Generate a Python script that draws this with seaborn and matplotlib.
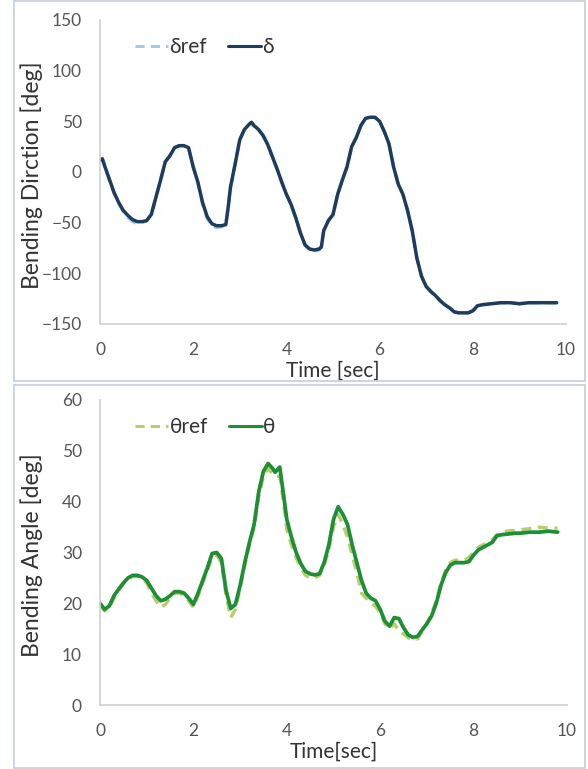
import numpy as np
import pandas as pd
import matplotlib
matplotlib.use("Agg")
import matplotlib.pyplot as plt
import seaborn as sns
from matplotlib.patches import Rectangle

# ---------------- data ----------------
t_delta = [0.0, 0.05, 0.1, 0.2, 0.3, 0.4, 0.5, 0.6, 0.7, 0.8, 0.9, 1.0, 1.1, 1.2, 1.3,
           1.4, 1.5, 1.6, 1.7, 1.8, 1.9, 2.0, 2.1, 2.2, 2.3, 2.4, 2.5, 2.6, 2.7, 2.75,
           2.8, 2.9, 3.0, 3.1, 3.2, 3.25, 3.3, 3.4, 3.5, 3.6, 3.7, 3.8, 3.9, 4.0, 4.1,
           4.2, 4.3, 4.4, 4.5, 4.6, 4.7, 4.75, 4.8, 4.9, 5.0, 5.1, 5.2, 5.3, 5.4, 5.5,
           5.6, 5.7, 5.8, 5.9, 6.0, 6.1, 6.2, 6.3, 6.4, 6.5, 6.6, 6.7, 6.8, 6.9, 7.0,
           7.1, 7.2, 7.3, 7.4, 7.5, 7.6, 7.7, 7.8, 7.9, 8.0, 8.1, 8.2, 8.4, 8.6, 8.8,
           9.0, 9.2, 9.4, 9.6, 9.8]
delta = [12, 13, 6, -7, -20, -30, -38, -43, -47, -49, -49, -48, -42, -25, -8,
         10, 16, 24, 26, 26, 24, 5, -10, -30, -44, -51, -53, -53, -52, -35,
         -15, 8, 32, 42, 47, 49, 46, 42, 36, 27, 15, 3, -10, -22, -32,
         -45, -60, -72, -76, -77, -76, -74, -58, -48, -42, -22, -8, 5, 25, 34,
         46, 53, 54, 54, 50, 40, 28, 5, -12, -22, -38, -58, -85, -103, -113,
         -118, -122, -127, -131, -134, -138, -139, -139, -139, -137, -132, -131, -130, -129, -129,
         -130, -129, -129, -129, -129]
delta_ref = [12, 13, 6, -8, -21, -31, -39, -45, -49, -51, -50, -48, -42, -25, -8,
             10, 16, 24, 26, 26, 24, 5, -10, -31, -46, -53, -55, -54, -52, -35,
             -15, 8, 32, 42, 47, 49, 46, 42, 36, 27, 15, 3, -10, -22, -32,
             -45, -60, -72, -77, -78, -77, -74, -58, -48, -42, -22, -8, 5, 25, 34,
             46, 53, 54, 54, 50, 40, 28, 5, -12, -22, -38, -58, -85, -103, -113,
             -118, -122, -127, -131, -134, -138, -139, -139, -139, -137, -132, -131, -130, -129, -129,
             -130, -129, -129, -129, -129]

t_theta = [0.0, 0.1, 0.2, 0.3, 0.4, 0.5, 0.6, 0.7, 0.8, 0.9, 1.0, 1.1, 1.2, 1.3, 1.4,
           1.5, 1.6, 1.7, 1.8, 1.9, 2.0, 2.1, 2.2, 2.3, 2.4, 2.5, 2.6, 2.7, 2.8, 2.9,
           3.0, 3.1, 3.2, 3.3, 3.4, 3.5, 3.6, 3.7, 3.75, 3.85, 3.95, 4.0, 4.1, 4.2, 4.3,
           4.4, 4.5, 4.6, 4.7, 4.8, 4.9, 5.0, 5.1, 5.2, 5.3, 5.4, 5.5, 5.6, 5.7, 5.8,
           5.9, 6.0, 6.1, 6.2, 6.3, 6.4, 6.5, 6.6, 6.7, 6.8, 6.9, 7.0, 7.1, 7.2, 7.3,
           7.4, 7.5, 7.6, 7.7, 7.8, 7.9, 8.0, 8.1, 8.2, 8.3, 8.4, 8.5, 8.6, 8.7, 8.8,
           8.9, 9.0, 9.2, 9.4, 9.6, 9.8]
theta = [20.0, 18.8, 19.5, 21.5, 22.8, 24.0, 25.0, 25.5, 25.5, 25.2, 24.5, 23.0, 21.5, 20.5, 20.8,
         21.5, 22.3, 22.3, 22.0, 21.0, 19.8, 22.0, 24.5, 27.0, 29.8, 30.0, 28.8, 22.5, 19.0, 19.8,
         23.5, 28.0, 32.0, 35.5, 42.0, 46.0, 47.5, 46.5, 45.8, 46.8, 40.0, 36.5, 33.0, 30.0, 27.8,
         26.3, 25.8, 25.6, 25.8, 28.0, 31.5, 36.5, 39.0, 37.5, 35.5, 31.5, 28.0, 24.5, 22.0, 21.0,
         20.5, 18.8, 16.5, 15.5, 17.2, 17.0, 15.2, 13.8, 13.3, 13.5, 14.8, 16.0, 17.5, 20.0, 23.5,
         26.0, 27.5, 28.0, 28.0, 28.0, 28.2, 29.5, 30.5, 31.0, 31.5, 32.0, 33.3, 33.5, 33.6, 33.7,
         33.8, 33.8, 34.0, 34.0, 34.2, 34.0]
theta_ref = [19.8, 18.5, 19.2, 21.0, 22.5, 23.8, 24.8, 25.3, 25.3, 25.0, 24.0, 22.0, 20.5, 19.2, 19.8,
             21.0, 22.0, 22.0, 21.5, 20.5, 19.2, 21.5, 24.0, 26.5, 29.0, 29.5, 28.0, 21.5, 17.2, 18.8,
             23.0, 27.5, 31.5, 35.0, 41.0, 45.0, 46.5, 45.5, 45.0, 45.0, 38.5, 34.5, 31.5, 29.0, 27.0,
             25.5, 25.0, 25.0, 25.5, 27.5, 30.5, 35.0, 37.5, 35.5, 33.0, 29.5, 26.0, 22.0, 21.0, 20.0,
             19.5, 18.0, 16.0, 15.0, 16.0, 14.5, 14.0, 13.2, 12.8, 13.0, 14.5, 16.0, 18.0, 20.5, 24.0,
             26.5, 28.0, 28.5, 28.5, 28.5, 29.0, 30.0, 31.0, 31.5, 32.0, 32.5, 33.5, 34.0, 34.2, 34.3,
             34.3, 34.5, 34.7, 35.0, 34.8, 34.8]

x_ticks = [0, 2, 4, 6, 8, 10]
delta_ticks = [-150, -100, -50, 0, 50, 100, 150]
theta_ticks = [0, 10, 20, 30, 40, 50, 60]

# ---------------- style ----------------
sns.set_theme(style="white")
plt.rcParams['font.family'] = ['Lato', 'DejaVu Sans']

fig = plt.figure(figsize=(5.88, 7.69), dpi=100)

# panel frames
border = "#C5CDD6"
fig.patches.append(Rectangle((14/588, 1 - 381/769), 571/588, 380/769, transform=fig.transFigure,
                             fill=False, edgecolor=border, lw=1.2))
fig.patches.append(Rectangle((14/588, 1 - 768/769), 571/588, 383/769, transform=fig.transFigure,
                             fill=False, edgecolor=border, lw=1.2))

ax1 = fig.add_axes([100/588, 1 - 324/769, 466/588, 304/769])
ax2 = fig.add_axes([100/588, 1 - 705/769, 467/588, 305/769])

navy = "#1D3C5E"
lblue = "#A9C8E3"
green = "#1E8F34"
lgreen = "#B9CC6E"

df1 = pd.DataFrame({"t": t_delta, "d": delta, "dr": delta_ref})
df2 = pd.DataFrame({"t": t_theta, "th": theta, "thr": theta_ref})

sns.lineplot(data=df1, x="t", y="dr", ax=ax1, color=lblue, lw=2.4, label="δref",
             linestyle=(0, (3, 2)))
sns.lineplot(data=df1, x="t", y="d", ax=ax1, color=navy, lw=2.5, label="δ")

sns.lineplot(data=df2, x="t", y="thr", ax=ax2, color=lgreen, lw=2.4, label="θref",
             linestyle=(0, (3, 2)))
sns.lineplot(data=df2, x="t", y="th", ax=ax2, color=green, lw=2.7, label="θ")

tick_col = "#555555"
spine_col = "#CFCFCF"
for ax, yt, ylab, xlab in [(ax1, delta_ticks, "Bending Dirction [deg]", "Time [sec]"),
                           (ax2, theta_ticks, "Bending Angle [deg]", "Time[sec]")]:
    ax.set_xlim(0, 10)
    ax.set_ylim(yt[0], yt[-1])
    ax.set_xticks(x_ticks)
    ax.set_yticks(yt)
    ax.set_facecolor("white")
    for s in ["top", "right"]:
        ax.spines[s].set_visible(False)
    for s in ["left", "bottom"]:
        ax.spines[s].set_color(spine_col)
        ax.spines[s].set_linewidth(1.2)
    ax.tick_params(axis="both", direction="out", length=4, width=1, color=spine_col,
                   labelcolor=tick_col, labelsize=12.5)
    ax.tick_params(axis="x", pad=9)
    ax.tick_params(axis="y", pad=9)
    ax.set_xlabel(xlab, fontsize=15, color="#333333", labelpad=2)
    ax.set_ylabel(ylab, fontsize=16.5, color="#333333")
    ax.yaxis.set_label_coords(-0.122, 0.49)
    leg = ax.legend(loc="upper left", bbox_to_anchor=(0.035, 1.005), ncol=2, frameon=False,
                    fontsize=15, handlelength=1.6, handletextpad=0.05, columnspacing=1.0)
    for txt in leg.get_texts():
        txt.set_color("#333333")
    for ln in leg.get_lines():
        ln.set_linewidth(2.2)

fig.savefig("out.png", dpi=100, facecolor="white")
